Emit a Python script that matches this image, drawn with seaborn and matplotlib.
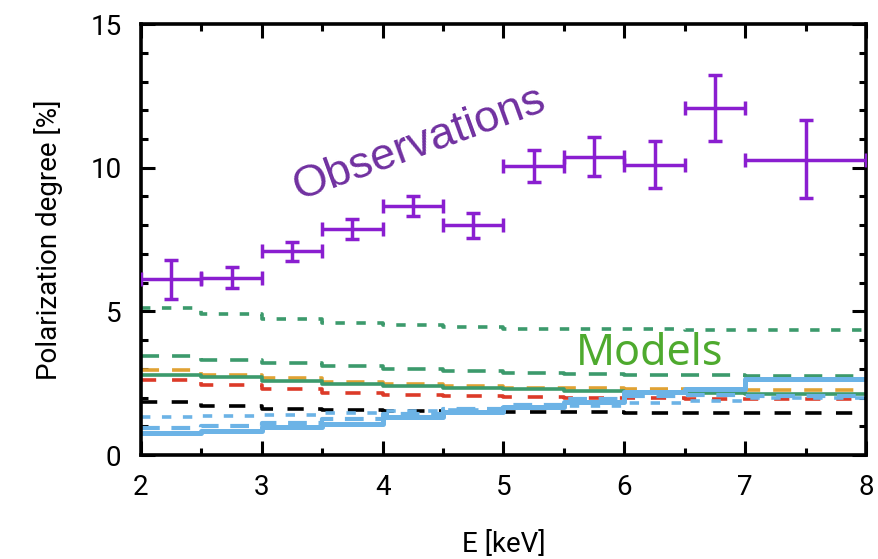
import numpy as np
import pandas as pd
import matplotlib
matplotlib.use("Agg")
import matplotlib.pyplot as plt
import seaborn as sns

# Observed polarization degree (bins of 0.5 keV, last bin 7-8 keV)
obs_lo = [2.0, 2.5, 3.0, 3.5, 4.0, 4.5, 5.0, 5.5, 6.0, 6.5, 7.0]
obs_hi = [2.5, 3.0, 3.5, 4.0, 4.5, 5.0, 5.5, 6.0, 6.5, 7.0, 8.0]
obs_pd = [6.13, 6.16, 7.10, 7.88, 8.68, 8.00, 10.05, 10.38, 10.10, 12.07, 10.28]
obs_err_up = [0.67, 0.40, 0.33, 0.35, 0.35, 0.42, 0.57, 0.70, 0.84, 1.17, 1.38]
obs_err_dn = [0.71, 0.36, 0.33, 0.35, 0.37, 0.46, 0.54, 0.68, 0.80, 1.13, 1.33]

# Model curves (step functions on the same bins)
edges = [2.0, 2.5, 3.0, 3.5, 4.0, 4.5, 5.0, 5.5, 6.0, 6.5, 7.0, 8.0]
model_green_dot = [5.10, 4.90, 4.72, 4.60, 4.52, 4.45, 4.40, 4.38, 4.37, 4.36, 4.36]
model_green_dash = [3.44, 3.31, 3.19, 3.09, 2.98, 2.92, 2.86, 2.82, 2.79, 2.77, 2.74]
model_orange = [2.96, 2.80, 2.67, 2.55, 2.46, 2.40, 2.35, 2.32, 2.29, 2.27, 2.25]
model_green_solid = [2.77, 2.70, 2.58, 2.48, 2.41, 2.35, 2.29, 2.24, 2.19, 2.16, 2.13]
model_red = [2.60, 2.43, 2.30, 2.17, 2.10, 2.05, 2.02, 1.99, 1.97, 1.96, 1.94]
model_black = [1.86, 1.71, 1.61, 1.55, 1.52, 1.50, 1.49, 1.49, 1.48, 1.48, 1.47]
model_blue_dot = [1.33, 1.37, 1.41, 1.46, 1.52, 1.57, 1.63, 1.70, 1.80, 1.89, 1.98]
model_blue_dash = [0.93, 1.01, 1.12, 1.24, 1.42, 1.60, 1.74, 1.94, 2.05, 2.09, 2.05]
model_blue_solid = [0.78, 0.84, 0.96, 1.08, 1.33, 1.51, 1.68, 1.86, 2.20, 2.29, 2.63]

sns.set_theme(style="ticks")
plt.rcParams['font.family'] = ['Roboto', 'DejaVu Sans']
plt.rcParams['text.color'] = 'black'
plt.rcParams['axes.labelcolor'] = 'black'
plt.rcParams['xtick.color'] = 'black'
plt.rcParams['ytick.color'] = 'black'

fig = plt.figure(figsize=(8.79, 5.59), dpi=100)
ax = fig.add_axes([0.1604, 0.186, 0.8248, 0.771])

models = [
    (model_green_dot, '#3c9a6c', 2.6, (2.6, 3.2)),
    (model_green_dash, '#3c9a6c', 2.6, (5.0, 3.6)),
    (model_orange, '#e0a234', 2.6, (5.0, 3.6)),
    (model_green_solid, '#3c9a6c', 2.6, None),
    (model_red, '#dc3a28', 2.6, (4.2, 4.4)),
    (model_black, '#000000', 2.6, (4.5, 4.0)),
    (model_blue_dot, '#6cb3e6', 2.6, (2.6, 3.2)),
    (model_blue_dash, '#6cb3e6', 3.0, (4.5, 2.8)),
    (model_blue_solid, '#6cb3e6', 3.6, None),
]

for vals, col, lw, dash in models:
    df = pd.DataFrame({'E': edges, 'PD': list(vals) + [vals[-1]]})
    sns.lineplot(data=df, x='E', y='PD', ax=ax, color=col, lw=lw,
                 drawstyle='steps-post', estimator=None, sort=False)
    if dash is not None:
        ax.lines[-1].set_dashes(dash)

# observations
obs_x = [(a + b) / 2 for a, b in zip(obs_lo, obs_hi)]
obs_xerr = [(b - a) / 2 for a, b in zip(obs_lo, obs_hi)]
ax.errorbar(obs_x, obs_pd, xerr=obs_xerr, yerr=[obs_err_dn, obs_err_up],
            fmt='none', ecolor='#8a1ed0', elinewidth=2.5, capsize=5,
            capthick=2.5, zorder=5)

ax.text(4.31, 10.85, 'Observations', color='#7030a0', fontsize=32.5,
        rotation=20, ha='center', va='center',
        family=['Liberation Sans', 'DejaVu Sans'])
ax.text(6.21, 3.5, 'Models', color='#4eaa2e', fontsize=31,
        ha='center', va='center', family=['Noto Sans', 'DejaVu Sans'])

ax.set_xlim(2, 8)
ax.set_ylim(0, 15)
ax.set_xticks([2, 3, 4, 5, 6, 7, 8])
ax.set_xticks(np.arange(2.5, 8, 1.0), minor=True)
ax.set_yticks([0, 5, 10, 15])
ax.set_yticks([1, 2, 3, 4, 6, 7, 8, 9, 11, 12, 13, 14], minor=True)
ax.tick_params(which='both', direction='in', top=True, right=True,
               width=2.2, labelsize=20)
ax.tick_params(axis='x', pad=14)
ax.tick_params(axis='y', pad=14)
ax.tick_params(which='major', length=10)
ax.tick_params(which='minor', length=5)
for s in ax.spines.values():
    s.set_linewidth(2.6)
    s.set_color('black')

ax.set_xlabel('E [keV]', fontsize=20, labelpad=21)
ax.set_ylabel('Polarization degree [%]', fontsize=20, labelpad=20)

fig.savefig('out.png', dpi=100)
